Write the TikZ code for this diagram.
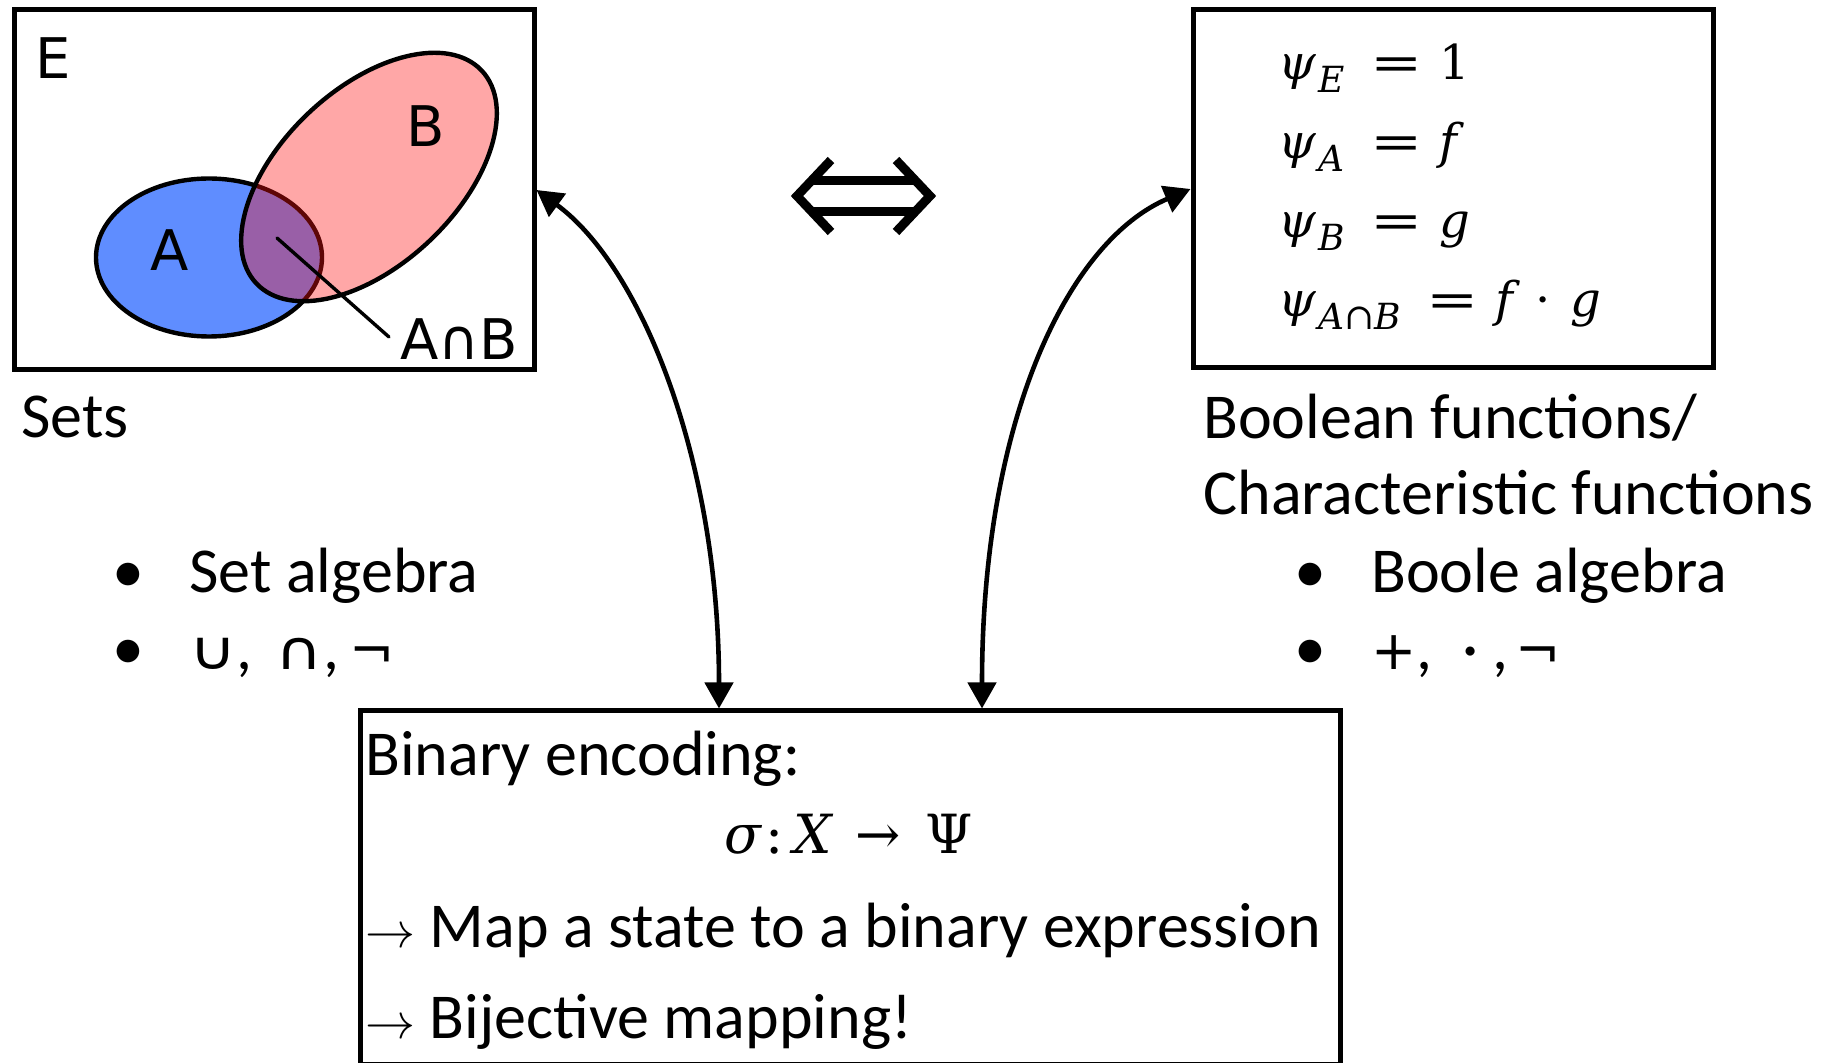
\RequirePackage{fix-cm}
\documentclass[tikz,border=0pt]{standalone}
\usepackage[no-math]{fontspec}
\usepackage{graphicx}
\setmainfont{Carlito}
\newfontfamily\vennfont{DejaVu Sans}
\newfontfamily\mserif{DejaVu Serif}
\usetikzlibrary{arrows.meta}
\definecolor{setA}{RGB}{95,141,255}
\definecolor{setB}{RGB}{255,17,17}
\newcommand\symb[1]{{\vennfont\fontsize{27}{32}\selectfont #1}}
\newcommand\wsymb[1]{{\vennfont\fontsize{27}{32}\selectfont\scalebox{1.2}[1]{#1}}}
\newcommand\psisub[1]{{\itshape ψ}\hspace{1pt}\raisebox{-6.5pt}{\fontsize{18}{21}\selectfont\itshape #1}}
\newcommand\eqeq{\hspace{13pt}\scalebox{1.3}[1]{=}\hspace{8.5pt}}
\begin{document}
\begin{tikzpicture}[x=0.5pt,y=-0.5pt,
  box/.style={draw, line width=2.5pt, inner sep=0pt},
  txt/.style={inner sep=0pt, anchor=base west, font=\fontsize{32}{38}\selectfont},
  vlab/.style={inner sep=0pt, font=\vennfont\fontsize{28}{34}\selectfont},
  eqn/.style={inner sep=0pt, anchor=base west, font=\mserif\fontsize{24}{28}\selectfont},
  link/.style={line width=2.3pt, {Triangle[length=13pt,width=14pt]}-{Triangle[length=13pt,width=14pt]}},
  dbl/.style={line width=4.5pt, miter limit=10}
]
\useasboundingbox (0,0) rectangle (1822,1063);
\fill[white] (0,0) rectangle (1822,1063);

% boxes
\node[box, minimum width=260pt, minimum height=180pt] (lbox) at (274,190) {};
\node[box, minimum width=260pt, minimum height=179pt] (rbox) at (1453,189) {};
\node[box, minimum width=490pt, minimum height=176.75pt] (bbox) at (850,887.75) {};

% Venn diagram
\draw[line width=2.2pt, fill=setA] (209,257.5) ellipse [x radius=113, y radius=79];
\draw[line width=2.2pt, fill=setB, fill opacity=0.37, rotate around={43.4:(369,177)}] (369,177) ellipse [x radius=155, y radius=88];
\node[vlab] (E) at (53,58.5) {E};
\node[vlab] (labA) at (170,250) {A};
\node[vlab] (labB) at (426,126.5) {B};
\node[vlab] (AB) at (459,339.5) {A∩B};
\coordinate (ptin) at (277,238);
\coordinate (ptout) at (389,337);
\draw[line width=1.7pt, line cap=round] (ptin) -- (ptout);

% double arrow symbol
\draw[dbl] (831,160) -- (797,196) -- (831,232);
\draw[dbl] (896,160) -- (930,196) -- (896,232);
\draw[line width=4.5pt] (812,181) -- (915,181);
\draw[line width=4.5pt] (812,212) -- (915,212);

% equations
\node[eqn] (e1) at (1278,80) {\psisub{E}\eqeq 1};
\node[eqn] (e2) at (1278,159) {\psisub{A}\eqeq{\itshape f}};
\node[eqn] (e3) at (1278,238) {\psisub{B}\eqeq{\itshape g}};
\node[eqn] (e4) at (1278,317) {\psisub{A{\upshape ∩}B}\eqeq{\itshape f}\hspace{11pt}·\hspace{10pt}{\itshape g}};

% captions
\node[txt] (sets) at (21,438) {Sets};
\node[txt] (bool1) at (1203,439) {Boolean functions/};
\node[txt] (bool2) at (1203,515) {Characteristic functions};

\node[txt, anchor=base] (bl1) at (128,593) {\textbullet};
\node[txt] (sa) at (189,593) {Set algebra};
\node[txt, anchor=base] (bl2) at (128,670) {\textbullet};
\node[txt] (ops1) at (189,670) {\wsymb{∪},\hspace{11.5pt}\wsymb{∩},\hspace{5pt}\symb{¬}};

\node[txt, anchor=base] (br1) at (1310,593) {\textbullet};
\node[txt] (ba) at (1371,593) {Boole algebra};
\node[txt, anchor=base] (br2) at (1310,670) {\textbullet};
\node[txt] (ops2) at (1371,670) {\symb{+},\hspace{15pt}·\hspace{7pt},\hspace{3.5pt}\symb{¬}};

% bottom box text
\node[txt] (be) at (365,776) {Binary encoding:};
\node[inner sep=0pt, anchor=base west, font=\mserif\fontsize{27}{32}\selectfont] (sig) at (724,854) {{\itshape σ}\hspace{2pt}:\hspace{5pt}{\itshape X}\hspace{12pt}→\hspace{12pt}Ψ};
\node[txt] (m1) at (365,947) {{\fontsize{25}{30}\selectfont$\rightarrow$} Map a state to a binary expression};
\node[txt] (m2) at (365,1038) {{\fontsize{25}{30}\selectfont$\rightarrow$} Bijective mapping!};

% connectors
\draw[link] (lbox.east) .. controls +(104,76) and +(0,-250) .. ([xshift=-65.5pt]bbox.north);
\draw[link] (rbox.west) .. controls +(-122,52) and +(0,-290) .. ([xshift=66pt]bbox.north);
\end{tikzpicture}
\end{document}
